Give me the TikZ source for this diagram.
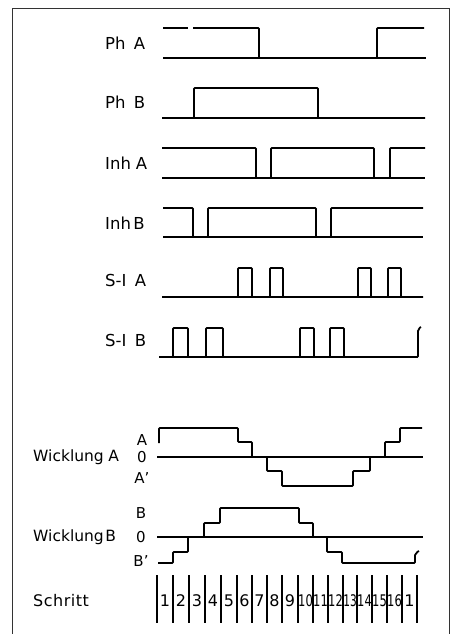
\documentclass[tikz,border=0pt]{standalone}
\usepackage{fontspec}
\setmainfont{DejaVu Sans}
\begin{document}
\begin{tikzpicture}[x=1pt,y=-1pt,
  wave/.style={line width=1.8pt,line join=round,rounded corners=0.8pt},
  baseline/.style={line width=1.1pt},
  frame/.style={line width=0.9pt,draw=black!80},
  tick/.style={line width=1.1pt},
  lbl/.style={inner sep=0pt,anchor=west,font=\fontsize{16.5}{19}\selectfont},
  wlbl/.style={inner sep=0pt,anchor=west,font=\fontsize{15.5}{18}\selectfont},
  lvl/.style={inner sep=0pt,font=\fontsize{15}{17}\selectfont},
  num/.style={inner sep=0pt,font=\fontsize{16}{18}\selectfont}]
\useasboundingbox (0,0) rectangle (453,634);
\fill[white] (0,0) rectangle (453,634);

% outer frame (bottom edge lies below the page)
\draw[frame] (12,645) -- (12,8) -- (449,8) -- (449,645);

% ---- Ph A ----
\node[lbl] (phA) at (105,43) {Ph\hspace{0.5em}A};
\draw[baseline] (163,58) -- (426,58);
\draw[wave] (163,28) -- (188,28);
\draw[wave] (193,28) -- (259,28) -- (259,58) -- (377,58) -- (377,28) -- (424,28);

% ---- Ph B ----
\node[lbl] (phB) at (105,102) {Ph\hspace{0.5em}B};
\draw[baseline] (162,118) -- (425,118);
\draw[wave] (162,118) -- (194,118) -- (194,88) -- (318,88) -- (318,118) -- (425,118);

% ---- Inh A ----
\node[lbl] (inhA) at (105,163) {Inh\hspace{0.3em}A};
\draw[baseline] (162,178) -- (425,178);
\draw[wave] (162,148) -- (256,148) -- (256,178) -- (271,178) -- (271,148)
  -- (374,148) -- (374,178) -- (390,178) -- (390,148) -- (425,148);

% ---- Inh B ----
\node[lbl] (inhB) at (105,223) {Inh\hspace{0.15em}B};
\draw[baseline] (163,237) -- (423,237);
\draw[wave] (163,208) -- (193,208) -- (193,237) -- (208,237) -- (208,208)
  -- (316,208) -- (316,237) -- (331,237) -- (331,208) -- (423,208);

% ---- S-I A ----
\node[lbl] (siA) at (105,280) {S-I\hspace{0.5em}A};
\draw[baseline] (162,297) -- (423,297);
\draw[wave] (162,297) -- (238,297) -- (238,268) -- (252,268) -- (252,297)
  -- (270,297) -- (270,268) -- (283,268) -- (283,297)
  -- (358,297) -- (358,268) -- (371,268) -- (371,297)
  -- (388,297) -- (388,268) -- (401,268) -- (401,297) -- (423,297);

% ---- S-I B ----
\node[lbl] (siB) at (105,340) {S-I\hspace{0.5em}B};
\draw[baseline] (159,357) -- (418,357);
\draw[wave] (159,357) -- (173,357) -- (173,328) -- (188,328) -- (188,357)
  -- (206,357) -- (206,328) -- (223,328) -- (223,357)
  -- (300,357) -- (300,328) -- (314,328) -- (314,357)
  -- (330,357) -- (330,328) -- (344,328) -- (344,357)
  -- (418,357) -- (418,330) to[out=-90,in=180] (421,327);

% ---- Wicklung A ----
\node[wlbl] (wA) at (33,457) {Wicklung\hspace{0.3em}A};
\node[lvl] (wAp) at (142,440) {A};
\node[lvl] (wA0) at (142,457) {0};
\node[lvl] (wAn) at (142,478) {A'};
\draw[baseline] (157,457) -- (423,457);
\draw[wave] (159,443) -- (159,428) -- (238,428) -- (238,442) -- (252,442)
  -- (252,457) -- (267,457) -- (267,471) -- (282,471) -- (282,486)
  -- (353,486) -- (353,471) -- (370,471) -- (370,457) -- (385,457)
  -- (385,442) -- (400,442) -- (400,428) -- (422,428);

% ---- Wicklung B ----
\node[wlbl] (wB) at (33,537) {Wicklung\hspace{0.1em}B};
\node[lvl] (wBp) at (141,513) {B};
\node[lvl] (wB0) at (141,537) {0};
\node[lvl] (wBn) at (141,561) {B'};
\draw[baseline] (157,537) -- (423,537);
\draw[wave] (158,563) -- (173,563) -- (173,552) -- (188,552) -- (188,537)
  -- (204,537) -- (204,523) -- (220,523) -- (220,508) -- (299,508)
  -- (299,523) -- (313,523) -- (313,537) -- (327,537) -- (327,552)
  -- (342,552) -- (342,563) -- (415,563) -- (415,554) to[out=-90,in=180] (419,551);

% ---- Schritt ----
\node[lbl,font=\fontsize{16}{19}\selectfont] (schritt) at (33,601) {S\kern0.5pt c\kern0.5pt h\kern0.5pt r\kern0.5pt i\kern0.5pt t\kern0.5pt t};
\foreach \x [count=\i] in {157,173,189,205,221,237,252,267,282,298,313,328,343,357,372,387,402,417}
  \draw[tick] (\x,575) -- (\x,623);
\foreach \a/\b/\t [count=\i] in {157/173/1,173/189/2,189/205/3,205/221/4,221/237/5,
  237/252/6,252/267/7,267/282/8,282/298/9,
  298/313/\scalebox{0.72}[1]{10},313/328/\scalebox{0.72}[1]{11},
  328/343/\scalebox{0.72}[1]{12},343/357/\scalebox{0.66}[1]{13},
  357/372/\scalebox{0.72}[1]{14},372/387/\scalebox{0.72}[1]{15},
  387/402/\scalebox{0.72}[1]{16},402/417/1}
  \node[num] (s\i) at ({(\a+\b)/2},601) {\t};
\end{tikzpicture}
\end{document}
